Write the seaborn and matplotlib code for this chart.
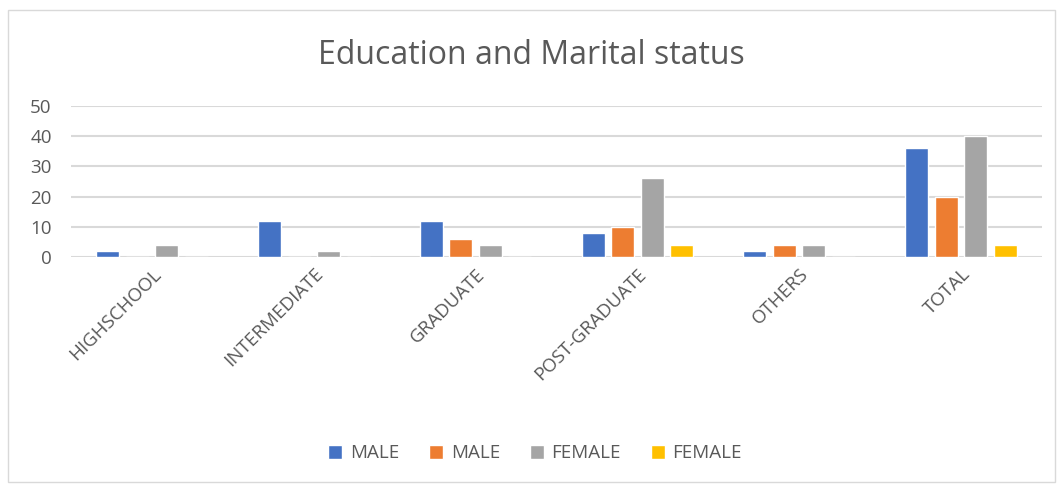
import pandas as pd
import seaborn as sns
import matplotlib.pyplot as plt
from matplotlib.patches import Rectangle

# data
categories = ['HIGHSCHOOL', 'INTERMEDIATE', 'GRADUATE', 'POST-GRADUATE', 'OTHERS', 'TOTAL']
male_1 = [2, 12, 12, 8, 2, 36]
male_2 = [0, 0, 6, 10, 4, 20]
female_1 = [4, 2, 4, 26, 4, 40]
female_2 = [0, 0, 0, 4, 0, 4]
series_labels = ['MALE', 'MALE', 'FEMALE', 'FEMALE']
colors = ['#4472c4', '#ed7d31', '#a5a5a5', '#ffc000']

keys = ['s1', 's2', 's3', 's4']
rows = []
for key, vals in zip(keys, [male_1, male_2, female_1, female_2]):
    for cat, v in zip(categories, vals):
        rows.append({'category': cat, 'series': key, 'value': v})
df = pd.DataFrame(rows)

sns.set_style('white')
plt.rcParams['font.family'] = ['Open Sans', 'DejaVu Sans']
txt = '#595959'

fig = plt.figure(figsize=(10.62, 4.84), dpi=100)
ax = fig.add_axes([0.067, 0.47, 0.914, 0.31])

sns.barplot(data=df, x='category', y='value', hue='series', hue_order=keys,
            palette=colors, saturation=1, width=0.73, gap=0.22, ax=ax, legend=True)

ax.set_ylim(0, 50)
ax.set_yticks(range(0, 51, 10))
ax.yaxis.grid(True, color='#d9d9d9', linewidth=1.5)
ax.set_axisbelow(True)
for s in ax.spines.values():
    s.set_visible(False)
ax.tick_params(axis='both', length=0, colors=txt, labelsize=13.5)
ax.tick_params(axis='y', pad=14)
ax.tick_params(axis='x', pad=6)
plt.setp(ax.get_xticklabels(), rotation=45, ha='right', rotation_mode='anchor')
ax.set_xlabel('')
ax.set_ylabel('')

handles, _ = ax.get_legend_handles_labels()
ax.legend(handles, series_labels, loc='upper center', bbox_to_anchor=(0.478, -1.14),
          ncol=4, frameon=False, fontsize=13.5, labelcolor=txt,
          handlelength=0.75, handleheight=0.75, handletextpad=0.4, columnspacing=1.6)

fig.text(0.5, 0.885, 'Education and Marital status', ha='center', va='center',
         fontsize=23, color=txt)

fig.patches.append(Rectangle((0.008, 0.005), 0.985, 0.975, transform=fig.transFigure,
                             fill=False, edgecolor='#d9d9d9', linewidth=1))

fig.savefig('out.png', dpi=100)
